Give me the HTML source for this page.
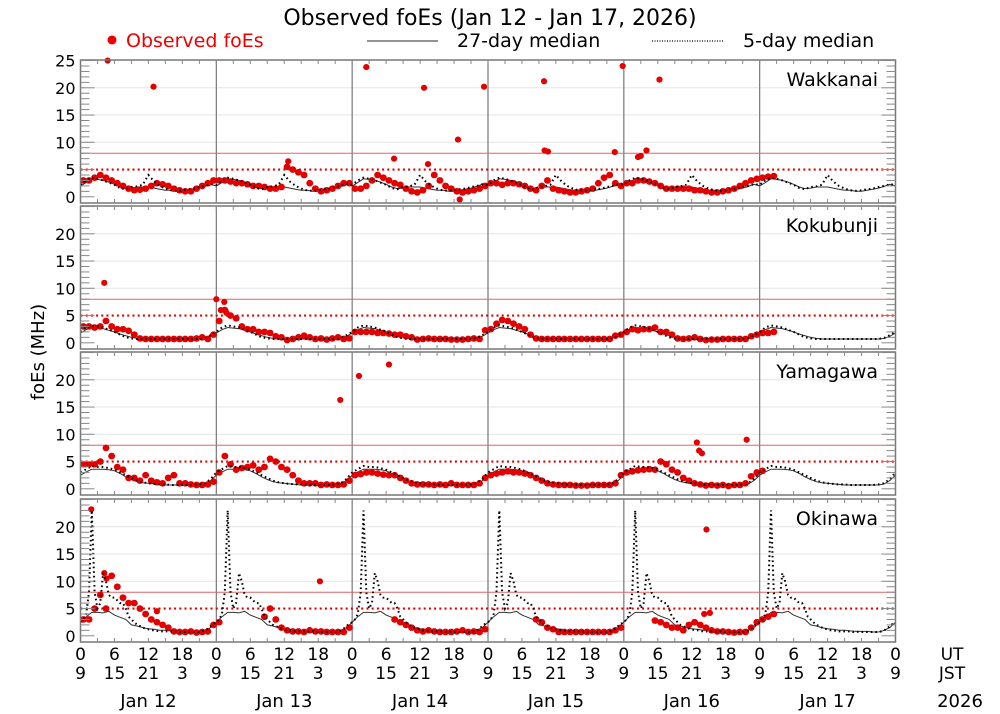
<!DOCTYPE html>
<html><head><meta charset="utf-8"><style>
body{margin:0;background:#fff;}
svg{display:block;font-family:"DejaVu Sans","Liberation Sans",sans-serif;}
</style></head><body>
<svg id="chart" width="1000" height="714" viewBox="0 0 1000 714">
<text x="490" y="25" font-size="22" text-anchor="middle">Observed foEs (Jan 12 - Jan 17, 2026)</text>
<g>
<circle cx="112" cy="40" r="4.5" fill="#e00"/>
<text x="126" y="47" font-size="19" fill="#e00">Observed foEs</text>
<line x1="367" y1="41" x2="438" y2="41" stroke="#555" stroke-width="1.2"/>
<text x="457" y="47" font-size="19">27-day median</text>
<line x1="652" y1="41" x2="723" y2="41" stroke="#000" stroke-width="1.2" stroke-dasharray="1,1.5"/>
<text x="743" y="47" font-size="19">5-day median</text>
</g>
<text transform="translate(44,352) rotate(-90)" font-size="18" text-anchor="middle">foEs (MHz)</text>
<g id="panels"></g>
<g id="xaxis"></g>
</svg>
<script>
const stations = ["Wakkanai","Kokubunji","Yamagawa","Okinawa"];
const dayLabels = ["Jan 12","Jan 13","Jan 14","Jan 15","Jan 16","Jan 17"];
const utTicks = ["0","6","12","18"];
const jstTicks = ["9","15","21","3"];
const yTicksFirst = [0,5,10,15,20,25];
const yTicksOther = [0,5,10,15,20];

const med27Wakkanai = [2.0,2.6,3.3,3.2,3.0,2.7,2.3,1.8,1.5,1.6,1.8,1.8,1.8,1.6,1.4,1.2,1.2,1.0,1.0,1.2,1.4,1.6,1.9,2.3];
const med5Wakkanai = [2.2,3.0,3.5,3.3,3.0,2.6,2.2,1.6,1.4,1.8,1.9,2.2,4.0,2.8,2.0,1.5,1.2,1.1,1.2,1.4,1.5,1.8,2.0,2.3];
const med27Kokubunji = [1.8,2.4,2.8,2.7,2.6,2.3,2.0,1.6,1.3,1.0,0.8,0.7,0.7,0.7,0.7,0.7,0.7,0.7,0.7,0.7,0.7,0.7,0.8,1.2];
const med5Kokubunji = [2.0,2.8,3.2,3.0,2.8,2.4,2.0,1.5,1.0,0.8,0.7,0.7,0.7,0.7,0.7,0.7,0.7,0.7,0.7,0.7,0.7,0.7,0.9,1.4];
const med27Yamagawa = [2.5,3.1,3.6,3.6,3.6,3.5,3.3,2.8,2.2,1.7,1.3,1.1,1.0,0.9,0.8,0.7,0.7,0.7,0.7,0.7,0.7,0.7,0.9,1.5];
const med5Yamagawa = [3.0,3.6,4.2,4.0,4.0,3.8,3.5,3.0,2.5,2.0,1.5,1.2,1.0,0.9,0.8,0.8,0.7,0.7,0.7,0.7,0.7,0.8,1.0,1.8];
const med27Okinawa = [2.5,3.5,4.3,4.3,4.2,4.5,3.8,3.4,3.0,2.0,1.8,1.5,1.3,1.2,1.0,1.0,0.9,0.8,0.8,0.8,0.7,0.7,1.0,1.5];
const med5Okinawa = [2.5,3.0,4.0,8.0,23.0,8.0,5.0,6.0,11.5,10.0,7.5,7.0,7.0,6.5,6.0,6.0,5.0,3.5,3.0,2.5,2.0,1.8,1.5,1.3,1.2,1.0,1.0,0.9,0.8,0.8,0.8,0.8,0.8,0.7,0.8,0.7,0.7,0.7,0.7,0.7,0.7,0.7,0.7,0.8,1.0,1.3,1.8,2.2];

const obsWakkanai = [3,3,3.5,4,3.5,3,2.5,2,1.5,1.2,1.3,1.5,2,2.5,2.3,2,1.5,1.2,1,1,1.5,2,2.5,3,
 3,3,2.8,2.5,2.5,2.3,2,2,1.8,1.5,1.5,1.8,5.5,5,4.5,4,2.5,1.5,1,1.2,1.5,2,2.5,2.5,
 1.5,1.5,2,3,4,3.5,3,2.5,2.2,1.5,1,0.8,1.2,2,4,3,2,1.5,1,0.8,1,1.2,1.5,2,
 2.5,2.5,2.2,2.5,2.5,2.3,2,1.5,1.2,2,3,1.5,1.2,1,0.8,0.8,1,1.2,1.5,2.5,3.5,4,2.5,2,
 2.5,2.5,3,3,2.8,2.5,2,1.5,1.5,1.5,1.5,1.5,1.2,1.2,1,0.8,0.8,1,1.2,1.5,2,2.5,3,3.3,
 3.5,3.7,3.8];
const obsKokubunji = [3,3,2.8,3,4,3,2.5,2.5,2.2,1.5,0.8,0.7,0.7,0.7,0.7,0.7,0.7,0.7,0.7,0.7,0.8,1,0.7,1.5,
 4,6,5,4.5,3,2.5,2.5,2,2,1.8,1.2,1,0.5,0.7,1,1.3,1,0.7,0.8,0.6,0.8,1,0.7,0.8,
 2,2,2,2,1.8,1.8,1.7,1.5,1.5,1.2,1,0.6,0.7,0.8,0.7,0.7,0.7,0.6,0.6,0.6,0.7,0.8,0.7,2.3,
 2.5,3.5,4.2,4,3.5,3,2.5,1.5,0.8,0.7,0.7,0.7,0.7,0.7,0.7,0.7,0.7,0.7,0.7,0.7,0.7,0.7,1.3,1.5,
 2,2.5,2.3,2.5,2.5,2.8,2,2,1.5,0.8,0.7,0.8,1,0.7,0.5,0.6,0.6,0.7,0.7,0.7,0.7,0.7,1.2,1.5,
 1.8,1.8,2];
const obsYamagawa = [4.5,4.5,4.5,5,7.5,6,4,3.5,2,2,1.5,2.5,1.5,1.2,1,2,2.5,1,1,0.8,0.7,0.7,0.8,1.3,
 3,6,4.5,3.5,3.8,4,4.3,3.5,4,5.5,5,4,3.5,2.5,1.5,1,1,1,0.7,0.8,0.7,0.7,0.8,1.5,
 2.5,2.7,3,3,2.8,2.6,2.5,2.5,2,1.5,1,0.8,0.8,0.8,0.7,0.8,0.7,1,0.7,0.7,0.7,0.7,1,2,
 2.5,2.8,3,3.2,3,3,2.8,2.5,2,1.5,1,0.8,0.7,0.7,0.7,0.6,0.6,0.6,0.7,0.7,0.7,0.7,1,2.5,
 3,3.2,3.4,3.5,3.6,3.5,5,4.5,3.5,3,2,1.5,1,0.8,0.6,0.7,0.6,0.7,0.5,0.7,0.7,1,2.3,3,
 3.3];
const obsOkinawa = [3,3,5,7.5,5,11,9,7,6,6,5,4,3,2.5,2,1.5,0.8,0.7,0.7,0.8,0.6,0.7,0.8,2,
 2.5,null,null,null,null,null,null,null,3.5,5,3,1.5,1,0.8,0.8,0.7,1,0.8,0.8,0.7,0.7,0.7,0.7,1.5,
 null,null,null,null,null,null,null,3,2.5,2,1.5,1,0.8,1,0.8,0.7,0.7,0.7,0.8,1,0.7,0.8,0.7,1.2,
 null,null,null,null,null,null,null,null,3,2.5,1.5,1.2,0.7,0.7,0.7,0.7,0.7,0.7,0.7,0.7,0.7,0.7,1,1.5,
 null,null,null,null,null,2.8,2.5,2,1.5,1.5,1,2,2.5,2,1.5,1,0.8,0.8,0.7,0.6,0.7,0.7,1.5,2.5,
 3,3.5,4];
// outliers: [hour, value]
const outWakkanai = [[4.8,25],[12.9,20.2],[36.7,6.5],[50.5,23.8],[55.4,7],[60.7,20],[61.4,6],[66.7,10.5],[67,-0.5],[71.3,20.2],[81.9,21.2],[82,8.5],[82.6,8.3],[94.4,8.2],[95.8,24],[98.5,7.3],[99,7.5],[100,8.5],[102.3,21.5]];
const outKokubunji = [[4.2,11],[24,8],[25.4,7.5],[24.8,6],[25.8,5.5]];
const outYamagawa = [[45.9,16.3],[49.2,20.7],[54.5,22.8],[108.9,8.5],[109.3,7],[109.8,6.5],[117.7,9]];
const outOkinawa = [[1.9,23.2],[4.2,11.5],[4.6,10.5],[13.5,4.5],[42.3,10],[110.6,19.5],[110.2,4],[111.2,4.2]];

const med27 = [med27Wakkanai,med27Kokubunji,med27Yamagawa,med27Okinawa];
const med5 = [med5Wakkanai,med5Kokubunji,med5Yamagawa,med5Okinawa];
const obs = [obsWakkanai,obsKokubunji,obsYamagawa,obsOkinawa];
const outs = [outWakkanai,outKokubunji,outYamagawa,outOkinawa];

const NS="http://www.w3.org/2000/svg";
const X0=80.5, X1=895.5, H=143, VMAX=25.1, PPU=5.45;
const tops=[60,206,352,499];
const xs=h=>X0+(X1-X0)*h/144;
function mk(tag,attrs,parent){const e=document.createElementNS(NS,tag);for(const k in attrs)e.setAttribute(k,attrs[k]);parent.appendChild(e);return e;}
const panels=document.getElementById('panels');
stations.forEach((st,i)=>{
  const top=tops[i];
  const ys=v=>top+(VMAX-v)*PPU;
  const g=mk('g',{},panels);
  
  
  [10,15,20].forEach(v=>{const l=mk('line',{x1:X0,x2:X1,y1:ys(v),y2:ys(v),stroke:'#e6e6e6','stroke-width':1},g);
    
    });
  for(let d=1;d<6;d++){const l=mk('line',{x1:xs(d*24),x2:xs(d*24),y1:top,y2:top+H,stroke:'#777','stroke-width':1.2},g);
    
    }
  const r8=mk('line',{x1:X0,x2:X1,y1:ys(8),y2:ys(8),stroke:'#d66','stroke-width':1},g);
  
  
  const r5=mk('line',{x1:X0,x2:X1,y1:ys(5),y2:ys(5),stroke:'#d00','stroke-width':2.2,'stroke-dasharray':'2,3.2'},g);
  
  
  function line(arr,dash,name,w){
    const step=24/arr.length;let pts=[];
    for(let d=0;d<6;d++)arr.forEach((v,k)=>pts.push(xs(d*24+k*step).toFixed(1)+','+ys(v).toFixed(1)));
    pts.push(xs(144).toFixed(1)+','+ys(arr[0]).toFixed(1));
    const p=mk('polyline',{points:pts.join(' '),fill:'none',stroke:dash?'#000':'#333','stroke-width':w},g);
    if(dash)p.setAttribute('stroke-dasharray',dash);
    
    
  }
  line(med27[i],null,'median-27day',1);
  obs[i].forEach((v,h)=>{if(v===null)return;
    const c=mk('rect',{x:xs(h)-0.6,y:ys(v)-3.3,width:6.9,height:6.6,rx:3.3,fill:'#e20000'},g);
    
    });
  outs[i].forEach(p=>{const c=mk('circle',{cx:xs(p[0]),cy:ys(p[1]),r:3.1,fill:'#e20000'},g);
    
    });
  line(med5[i],'1.6,3','median-5day',2);
  const f=mk('rect',{x:X0,y:top,width:X1-X0,height:H,fill:'none',stroke:'#777','stroke-width':1.5},g);
  
  
  for(let v=0;v<=25;v++){const yy=ys(v);if(yy<top)continue;const L=v%5===0?14:9;
    mk('line',{x1:X0,x2:X0+L,y1:yy,y2:yy,stroke:'#888','stroke-width':1},g);
    mk('line',{x1:X1,x2:X1-L,y1:yy,y2:yy,stroke:'#888','stroke-width':1},g);}
  for(let h=3;h<144;h+=3){mk('line',{x1:xs(h),x2:xs(h),y1:top,y2:top+4,stroke:'#888'},g);
    mk('line',{x1:xs(h),x2:xs(h),y1:top+H,y2:top+H-4,stroke:'#888'},g);}
  (i===0?yTicksFirst:yTicksOther).forEach(v=>{const t=mk('text',{x:X0-5,y:ys(v)+6,'font-size':16,'text-anchor':'end'},g);t.textContent=v;
    
    });
  const lab=mk('text',{x:878,y:top+26,'font-size':19,'text-anchor':'end'},g);lab.textContent=st;
  
  
});
const xa=document.getElementById('xaxis');
for(let d=0;d<6;d++){
  utTicks.forEach((t,k)=>{const e=mk('text',{x:xs(d*24+k*6),y:660,'font-size':17,'text-anchor':'middle'},xa);e.textContent=t;
    
    });
  jstTicks.forEach((t,k)=>{const e=mk('text',{x:xs(d*24+k*6),y:679,'font-size':17,'text-anchor':'middle'},xa);e.textContent=t;
    
    });
  const e=mk('text',{x:xs(d*24+12),y:707,'font-size':18,'text-anchor':'middle'},xa);e.textContent=dayLabels[d];
  
  
}
[["0",660,'x-tick-ut'],["9",679,'x-tick-jst']].forEach(a=>{const e=mk('text',{x:xs(144),y:a[1],'font-size':17,'text-anchor':'middle'},xa);e.textContent=a[0];
  
  });
[["UT",952,660,17],["JST",952,679,17],["2026",960,707,18]].forEach(a=>{const e=mk('text',{x:a[1],y:a[2],'font-size':a[3],'text-anchor':'middle'},xa);e.textContent=a[0];
  
  });
</script>
</body></html>
